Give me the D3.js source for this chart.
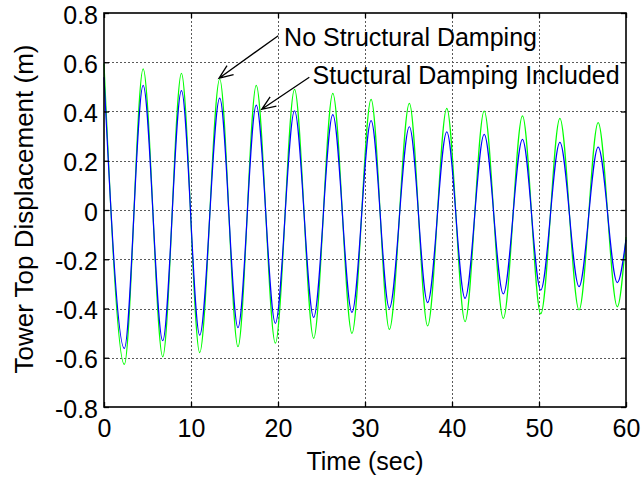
<!DOCTYPE html>
<html>
<head>
<meta charset="utf-8">
<script src="https://cdn.jsdelivr.net/npm/d3@7"></script>
<style>
  html, body { margin: 0; padding: 0; background: #fff; }
  svg { display: block; }
  text { font-family: "Liberation Sans", Arial, sans-serif; fill: #000; }
</style>
</head>
<body>
<svg id="chart" width="641" height="480"></svg>
<script>
// ---- data ----
const timeSec = [0, 2.34, 4.5, 6.75, 8.9, 11.0, 13.3, 15.4, 17.5, 19.7, 21.9, 24.1, 26.3, 28.5,
  30.7, 32.8, 35.1, 37.2, 39.4, 41.5, 43.7, 45.9, 48.1, 50.2, 52.4, 54.6, 56.8, 59.0, 60];
const noDamping = [0.595, -0.627, 0.573, -0.596, 0.555, -0.579, 0.532, -0.555, 0.506, -0.541,
  0.49, -0.521, 0.474, -0.501, 0.449, -0.485, 0.433, -0.471, 0.413, -0.453, 0.402, -0.44,
  0.382, -0.422, 0.372, -0.406, 0.355, -0.393, -0.11];
const withDamping = [0.539, -0.562, 0.506, -0.531, 0.485, -0.508, 0.454, -0.478, 0.426, -0.46,
  0.403, -0.436, 0.387, -0.416, 0.363, -0.399, 0.338, -0.376, 0.317, -0.359, 0.307, -0.341,
  0.287, -0.325, 0.275, -0.311, 0.255, -0.295, -0.12];
const xTicks = [0, 10, 20, 30, 40, 50, 60];
const xTickLabels = ["0", "10", "20", "30", "40", "50", "60"];
const yTicks = [-0.8, -0.6, -0.4, -0.2, 0, 0.2, 0.4, 0.6, 0.8];
const yTickLabels = ["-0.8", "-0.6", "-0.4", "-0.2", "0", "0.2", "0.4", "0.6", "0.8"];
const annotationTexts = ["No Structural Damping", "Stuctural Damping Included"];
const annotationAnchors = [[20.7, 0.667], [23.97, 0.511]];
const arrowFrom = [[20.03, 0.708], [23.6, 0.539]];
const arrowTo = [[13.22, 0.535], [18.13, 0.409]];

// ---- layout ----
const svg = d3.select("#chart");
const margin = { left: 104, top: 13, right: 15, bottom: 73 };
const W = 641 - margin.left - margin.right;
const H = 480 - margin.top - margin.bottom;
const FS = 25;

svg.append("rect").attr("width", 641).attr("height", 480).attr("fill", "#fff");
const g = svg.append("g").attr("transform", `translate(${margin.left},${margin.top})`);

const x = d3.scaleLinear().domain([0, 60]).range([0, W]);
const y = d3.scaleLinear().domain([-0.8, 0.8]).range([H, 0]);

// grid
const grid = g.append("g").attr("stroke", "#5a5a5a").attr("stroke-width", 1)
  .attr("stroke-dasharray", "2,2").attr("shape-rendering", "crispEdges");
grid.selectAll("line.gx").data(xTicks.slice(1, -1)).join("line")
  .attr("x1", d => Math.round(x(d)) + 0.5).attr("x2", d => Math.round(x(d)) + 0.5)
  .attr("y1", 0).attr("y2", H);
grid.selectAll("line.gy").data(yTicks.slice(1, -1)).join("line")
  .attr("y1", d => Math.round(y(d)) + 0.5).attr("y2", d => Math.round(y(d)) + 0.5)
  .attr("x1", 0).attr("x2", W);

// lines
const line = d3.line().curve(d3.curveMonotoneX).x((d, i) => x(timeSec[i])).y(d => y(d));
g.append("path").datum(noDamping).attr("d", line)
  .attr("fill", "none").attr("stroke", "#00ff00").attr("stroke-width", 1.2);
g.append("path").datum(withDamping).attr("d", line)
  .attr("fill", "none").attr("stroke", "#0000ff").attr("stroke-width", 1.2);

// axes (inward ticks on all four sides)
function styleAxis(sel) {
  sel.selectAll(".domain").remove();
  sel.selectAll(".tick line").attr("stroke", "#000").attr("stroke-width", 1.3);
  sel.selectAll(".tick text").attr("font-size", FS).attr("fill", "#000")
    .attr("font-family", '"Liberation Sans", Arial, sans-serif');
}
const xAxis = g.append("g").attr("transform", `translate(0,${H})`)
  .call(d3.axisBottom(x).tickValues(xTicks).tickFormat((d, i) => xTickLabels[i])
    .tickSizeInner(-5).tickSizeOuter(0).tickPadding(12));
styleAxis(xAxis);
const yAxis = g.append("g")
  .call(d3.axisLeft(y).tickValues(yTicks).tickFormat((d, i) => yTickLabels[i])
    .tickSizeInner(-5).tickSizeOuter(0).tickPadding(6));
styleAxis(yAxis);
yAxis.selectAll(".tick text").attr("dy", "0.4em");
const xTop = g.append("g")
  .call(d3.axisTop(x).tickValues(xTicks).tickFormat("").tickSizeInner(-5).tickSizeOuter(0));
styleAxis(xTop);
const yRight = g.append("g").attr("transform", `translate(${W},0)`)
  .call(d3.axisRight(y).tickValues(yTicks).tickFormat("").tickSizeInner(-5).tickSizeOuter(0));
styleAxis(yRight);

// box
g.append("rect").attr("x", 0).attr("y", 0).attr("width", W).attr("height", H)
  .attr("fill", "none").attr("stroke", "#000").attr("stroke-width", 1.6);

// axis titles
svg.append("text").attr("x", margin.left + W / 2).attr("y", 470)
  .attr("text-anchor", "middle").attr("font-size", FS).text("Time (sec)");
svg.append("text").attr("transform", `translate(33,${margin.top + H / 2 - 1}) rotate(-90)`)
  .attr("text-anchor", "middle").attr("font-size", 26).text("Tower Top Displacement (m)");

// annotations with arrows
const ann = g.append("g");
annotationTexts.forEach((t, i) => {
  ann.append("text").attr("x", x(annotationAnchors[i][0])).attr("y", y(annotationAnchors[i][1]))
    .attr("font-size", FS).text(t);
  const x0 = x(arrowFrom[i][0]), y0 = y(arrowFrom[i][1]);
  const x1 = x(arrowTo[i][0]), y1 = y(arrowTo[i][1]);
  const ang = Math.atan2(y0 - y1, x0 - x1);
  const L = 15, half = 22 * Math.PI / 180;
  const w1 = [x1 + L * Math.cos(ang - half), y1 + L * Math.sin(ang - half)];
  const w2 = [x1 + L * Math.cos(ang + half), y1 + L * Math.sin(ang + half)];
  ann.append("path")
    .attr("d", `M${x0},${y0}L${x1},${y1}M${w1[0]},${w1[1]}L${x1},${y1}L${w2[0]},${w2[1]}`)
    .attr("fill", "none").attr("stroke", "#000").attr("stroke-width", 1.3);
});
</script>
</body>
</html>
